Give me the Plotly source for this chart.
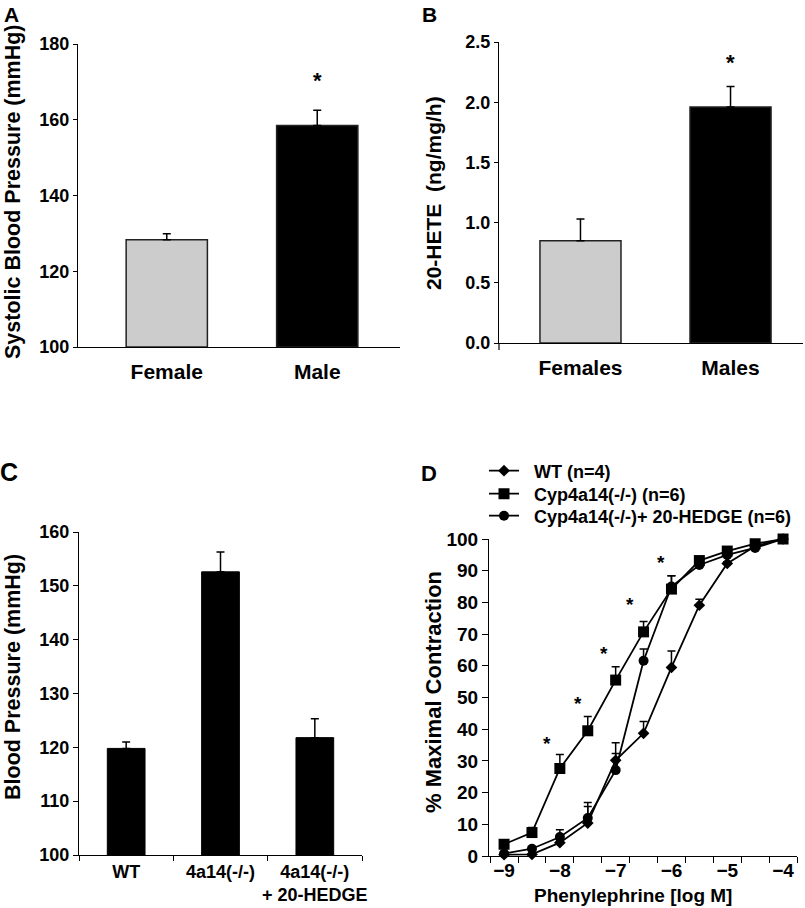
import plotly.graph_objects as go

# ---------------- data ----------------
A_categories = ["Female", "Male"]
A_values = [128.3, 158.5]
A_errors = [1.6, 4.0]
A_colors = ["#cccccc", "#000000"]

B_categories = ["Females", "Males"]
B_values = [0.85, 1.96]
B_errors = [0.18, 0.17]
B_colors = ["#cccccc", "#000000"]

C_categories = ["WT", "4a14(-/-)", "4a14(-/-)<br>+ 20-HEDGE"]
C_values = [119.8, 152.6, 121.8]
C_errors = [1.2, 3.7, 3.5]

D_log_conc = [-9, -8.5, -8, -7.5, -7, -6.5, -6, -5.5, -5, -4.5, -4]
D_wt = [0.4, 0.5, 4.2, 10.4, 30.2, 38.7, 59.5, 79.1, 92.3, 97.7, 100]
D_wt_err = [0, 0, 0.5, 5.2, 5.5, 3.7, 5.2, 1.9, 0.5, 0.5, 0]
D_ko = [3.7, 7.4, 27.6, 39.5, 55.5, 70.7, 84.2, 93.2, 96.2, 98.5, 100]
D_ko_err = [0.5, 1.6, 4.4, 4.5, 4.2, 3.3, 4.2, 0.5, 0.5, 0.3, 0]
D_hedge = [0.8, 2.3, 6.0, 12.0, 27.1, 61.6, 85.0, 91.8, 95.0, 97.2, 100]
D_hedge_err = [0.3, 0.5, 2.3, 4.9, 5.2, 3.7, 3.4, 0.5, 0.5, 0.3, 0]
D_names = ["WT (n=4)", "Cyp4a14(-/-) (n=6)", "Cyp4a14(-/-)+ 20-HEDGE (n=6)"]

D_ticks = [-9, -8, -7, -6, -5, -4]

W, H = 805, 908
FONT = "Liberation Sans, Arial, sans-serif"


def px(x):
    return x / W


def py(y):
    return 1 - y / H


def dom_x(a, b):
    return [px(a), px(b)]


def dom_y(top, bottom):
    return [py(bottom), py(top)]


fig = go.Figure()

err_style = dict(type="data", symmetric=False, color="black", thickness=1.5, width=4)

# ---------------- Panel A ----------------
fig.add_trace(go.Bar(
    x=[0, 1], y=[v - 100 for v in A_values], base=100, width=0.54,
    marker=dict(color=A_colors, line=dict(color="#222222", width=1.5)),
    error_y=dict(array=A_errors, arrayminus=[0, 0], **err_style),
    xaxis="x", yaxis="y", showlegend=False,
))

# ---------------- Panel B ----------------
fig.add_trace(go.Bar(
    x=[0, 1], y=B_values, width=0.54,
    marker=dict(color=B_colors, line=dict(color="#222222", width=1.5)),
    error_y=dict(array=B_errors, arrayminus=[0, 0], **err_style),
    xaxis="x2", yaxis="y2", showlegend=False,
))

# ---------------- Panel C ----------------
fig.add_trace(go.Bar(
    x=C_categories, y=[v - 100 for v in C_values], base=100, width=0.40,
    marker=dict(color="black", line=dict(color="black", width=1)),
    error_y=dict(array=C_errors, arrayminus=[0, 0, 0], **err_style),
    xaxis="x3", yaxis="y3", showlegend=False,
))

# ---------------- Panel D ----------------
series = [
    (D_wt, D_wt_err, "diamond", 9, "legend"),
    (D_ko, D_ko_err, "square", 11, "legend2"),
    (D_hedge, D_hedge_err, "circle", 10, "legend3"),
]
NB = "\u00a0\u00a0"
for (vals, errs, sym, sz, lg), name in zip(series, D_names):
    fig.add_trace(go.Scatter(
        x=D_log_conc, y=vals, name=NB + name, mode="lines+markers",
        line=dict(color="black", width=1.8),
        marker=dict(symbol=sym, size=sz, color="black"),
        error_y=dict(array=errs, arrayminus=[0] * len(errs), **err_style),
        xaxis="x4", yaxis="y4", cliponaxis=False, legend=lg,
    ))

tickfont = dict(family=FONT, size=18, color="black", weight="bold")
axis_common = dict(showline=True, linecolor="black", linewidth=1.2, showgrid=False,
                   zeroline=False, tickcolor="black", tickwidth=1.2, automargin=False)

legend_font = dict(family=FONT, size=18, color="black", weight="bold")


def legend_row(yc):
    return dict(x=px(484), y=py(yc), xanchor="left", yanchor="middle",
                font=legend_font, bgcolor="rgba(0,0,0,0)", itemwidth=30)


fig.update_layout(
    template="none",
    width=W, height=H, margin=dict(l=0, r=0, t=0, b=0, autoexpand=False),
    paper_bgcolor="white", plot_bgcolor="white",
    font=dict(family=FONT, color="black", weight="bold"),
    xaxis=dict(domain=dom_x(78, 400), range=[-0.59, 1.55], anchor="y",
               tickvals=[0, 1], ticktext=A_categories, ticks="", tickangle=0,
               tickfont=dict(family=FONT, size=21, color="black", weight="bold"),
               ticklabelstandoff=6, **axis_common),
    yaxis=dict(domain=dom_y(44, 347), range=[100, 180], anchor="x",
               tickvals=[100, 120, 140, 160, 180], ticks="outside", ticklen=4,
               tickfont=tickfont, **axis_common),
    xaxis2=dict(domain=dom_x(499, 803), range=[-0.543, 1.483], anchor="y2",
                tickvals=[0, 1], ticktext=B_categories, ticks="", tickangle=0,
                tickfont=dict(family=FONT, size=21, color="black", weight="bold"),
                ticklabelstandoff=6, **axis_common),
    yaxis2=dict(domain=dom_y(42, 343), range=[0, 2.5], anchor="x2",
                tickvals=[0, 0.5, 1.0, 1.5, 2.0, 2.5], tickformat=".1f",
                ticks="outside", ticklen=4, tickfont=tickfont, **axis_common),
    xaxis3=dict(domain=dom_x(79, 362), range=[-0.5, 2.5], anchor="y3",
                type="category", tickson="boundaries", ticks="outside", ticklen=5,
                tickangle=0,
                tickfont=dict(family=FONT, size=18, color="black", weight="bold"),
                **axis_common),
    yaxis3=dict(domain=dom_y(532, 855), range=[100, 160], anchor="x3",
                dtick=10, ticks="outside", ticklen=5, tickfont=tickfont, **axis_common),
    xaxis4=dict(domain=dom_x(489, 797), range=[-9.27, -3.75], anchor="y4",
                tickvals=D_ticks, ticks="", tickangle=0, ticklabelstandoff=-3,
                minor=dict(ticks="outside", tick0=-9.25, dtick=0.5, ticklen=6,
                           tickcolor="black", tickwidth=1.2),
                tickfont=dict(family=FONT, size=19, color="black", weight="bold"),
                **axis_common),
    yaxis4=dict(domain=dom_y(539, 856), range=[0, 100], anchor="x4",
                dtick=10, ticks="outside", ticklen=6,
                tickfont=dict(family=FONT, size=19, color="black", weight="bold"),
                **axis_common),
    legend=legend_row(471),
    legend2=legend_row(494),
    legend3=legend_row(516),
)

# extension of panel B y-axis below x-axis
fig.add_shape(type="line", xref="paper", yref="paper",
              x0=px(499), x1=px(499), y0=py(343), y1=py(350),
              line=dict(color="black", width=1.2))

ann = []


def text_ann(x, y, text, size, angle=0, xref="paper", yref="paper", yshift=0):
    ann.append(dict(x=x, y=y, xref=xref, yref=yref, text=text, showarrow=False,
                    textangle=angle, xanchor="center", yanchor="middle", yshift=yshift,
                    font=dict(family=FONT, size=size, color="black", weight="bold")))


# panel letters
text_ann(px(11), py(14), "A", 21)
text_ann(px(429), py(14), "B", 21)
text_ann(px(9), py(472), "C", 25)
text_ann(px(429), py(474), "D", 22)

# axis titles
text_ann(px(13), py(192), "Systolic Blood Pressure (mmHg)", 21.5, -90)
text_ann(px(433), py(193), "20-HETE  (ng/mg/h)", 21, -90)
text_ann(px(13), py(677), "Blood Pressure (mmHg)", 21.5, -90)
text_ann(px(433), py(692), "% Maximal Contraction", 22, -90)
text_ann(px(633), py(895), "Phenylephrine [log M]", 19)

# significance asterisks
text_ann(1, 171.8, "*", 22, xref="x", yref="y", yshift=-5)
text_ann(1, 2.37, "*", 22, xref="x2", yref="y2", yshift=-5)
text_ann(1, 161.7, "*", 22, xref="x3", yref="y3", yshift=-5)
for ax, ay in [(-8.23, 36.8), (-7.68, 49.4), (-7.21, 65), (-6.74, 80.6), (-6.18, 94), (-5.69, 100.8)]:
    text_ann(ax, ay, "*", 19, xref="x4", yref="y4", yshift=-4)

fig.update_layout(annotations=ann)

fig.write_html(
    "out.html",
    config={"displayModeBar": False},
    post_script="document.body.style.margin='0px';document.body.style.padding='0px';",
)
